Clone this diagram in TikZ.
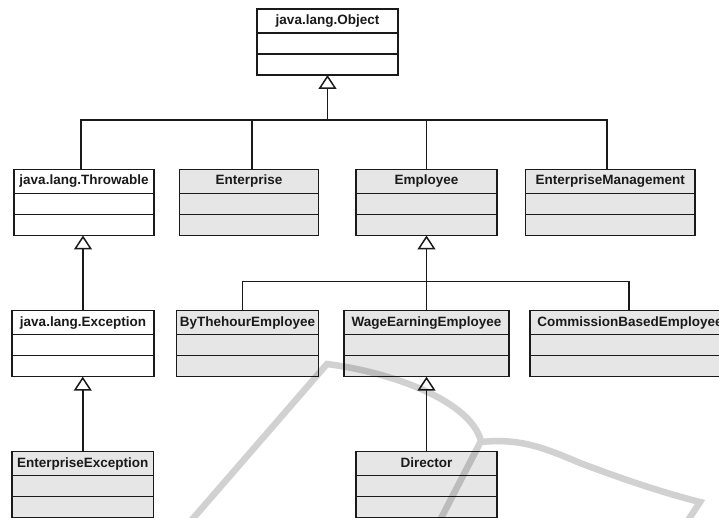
\documentclass[tikz,border=0pt]{standalone}
\usepackage{fontspec}
\setmainfont{Liberation Sans}
\usetikzlibrary{arrows.meta,calc}
\definecolor{boxgray}{HTML}{E6E6E6}
\definecolor{ink}{HTML}{1A1A1A}
\tikzset{
 classbox/.style={draw=ink, line width=1.5pt, rectangle, inner sep=0pt, outer sep=0pt, anchor=north west, minimum height=66pt},
 divider/.style={draw=ink, line width=1.5pt},
 classname/.style={font=\fontsize{13.5}{16}\selectfont\bfseries, text=ink, inner sep=0pt, text height=10pt, text depth=3pt, anchor=center},
 conn/.style={draw=ink, line width=1.5pt},
 inh/.style={conn, -{Triangle[open, length=14pt, width=18pt]}},
 wmark/.style={draw=black, draw opacity=0.18, line width=6.5pt, line join=miter}
}
\newcommand{\umlclass}[6]{%
 \node[classbox, fill=#5, minimum width={(#4)-(#2)}] (#1) at (#2,#3) {};
 \draw[divider] ([yshift=-24pt]#1.north west) -- ([yshift=-24pt]#1.north east);
 \draw[divider] ([yshift=-45pt]#1.north west) -- ([yshift=-45pt]#1.north east);
 \node[classname] (#1-name) at ([yshift=-12pt]#1.north) {#6};
}
\begin{document}
\begin{tikzpicture}[x=1pt,y=-1pt]
\path[use as bounding box, fill=white] (0,0) rectangle (719,518);
\begin{scope}
\clip (0,0) rectangle (719,518);
% classes
\umlclass{obj}{257}{9}{398}{white}{java.lang.Object}
\umlclass{thr}{14}{169.5}{154}{white}{java.lang.Throwable}
\umlclass{ent}{179.5}{169.5}{318.5}{boxgray}{Enterprise}
\umlclass{emp}{356}{169.5}{497}{boxgray}{Employee}
\umlclass{mgmt}{525.5}{169.5}{695}{boxgray}{EnterpriseManagement}
\umlclass{exc}{12}{310.7}{154}{white}{java.lang.Exception}
\umlclass{byh}{176.5}{310.7}{318.5}{boxgray}{ByThehourEmployee}
\umlclass{wage}{344}{310.7}{509}{boxgray}{WageEarningEmployee}
\umlclass{comm}{530}{310.7}{730}{boxgray}{CommissionBasedEmployee}
\umlclass{eexc}{12}{451.7}{153.5}{boxgray}{EnterpriseException}
\umlclass{dir}{356}{451.7}{497}{boxgray}{Director}
% inheritance from java.lang.Object
\coordinate (j1) at (327.5,120);
\draw[inh] (j1) -- (obj.south);
\draw[conn] ([xshift=-3pt]thr.north) |- (j1);
\draw[conn] ([xshift=3pt]ent.north) |- (j1);
\draw[conn] (emp.north) |- (j1);
\draw[conn] ([xshift=-3.5pt]mgmt.north) |- (j1);
% inheritance from Employee
\coordinate (j2) at (426.5,281.7);
\draw[inh] (j2) -- (emp.south);
\draw[conn] ([xshift=-5pt]byh.north) |- (j2);
\draw[conn] (wage.north) -- (j2);
\draw[conn] ([xshift=-1pt]comm.north) |- (j2);
% single inheritances
\draw[inh] (exc.north) -- (exc.north |- thr.south);
\draw[inh] (eexc.north) -- (eexc.north |- exc.south);
\draw[inh] (dir.north) -- (dir.north |- wage.south);
% watermark
\draw[wmark] (183,530) -- (327,364) .. controls (390,372) and (470,400) .. (481,441) -- (436,528)
  (481,442) .. controls (520,438) and (545,448) .. (580,463) .. controls (620,478) and (660,492) .. (700,502) -- (685,525);
\end{scope}
\end{tikzpicture}
\end{document}
